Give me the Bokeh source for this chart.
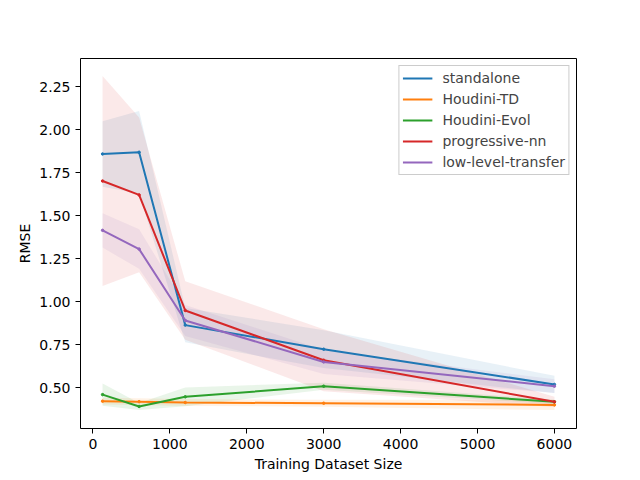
from bokeh.plotting import figure
from bokeh.models import Range1d, FixedTicker, PrintfTickFormatter
from bokeh.embed import file_html
from bokeh.resources import INLINE

x = [125, 600, 1200, 3000, 6000]

series_names = ["standalone", "Houdini-TD", "Houdini-Evol", "progressive-nn", "low-level-transfer"]
colors = ["#1f77b4", "#ff7f0e", "#2ca02c", "#d62728", "#9467bd"]

standalone_mean = [1.86, 1.87, 0.865, 0.725, 0.52]
standalone_std = [0.19, 0.24, 0.10, 0.11, 0.05]
td_mean = [0.423, 0.42, 0.415, 0.411, 0.401]
td_std = [0.02, 0.02, 0.02, 0.02, 0.03]
evol_mean = [0.461, 0.392, 0.448, 0.51, 0.419]
evol_std = [0.065, 0.02, 0.055, 0.02, 0.012]
pnn_mean = [1.703, 1.622, 0.95, 0.661, 0.419]
pnn_std = [0.61, 0.45, 0.17, 0.18, 0.03]
llt_mean = [1.416, 1.307, 0.892, 0.651, 0.51]
llt_std = [0.10, 0.115, 0.09, 0.07, 0.04]

x_ticks = [0, 1000, 2000, 3000, 4000, 5000, 6000]
y_ticks = [0.50, 0.75, 1.00, 1.25, 1.50, 1.75, 2.00, 2.25]

means = [standalone_mean, td_mean, evol_mean, pnn_mean, llt_mean]
stds = [standalone_std, td_std, evol_std, pnn_std, llt_std]

FONT = "DejaVu Sans"
FS = "14px"

p = figure(frame_width=496, frame_height=370,
           min_border_left=80, min_border_top=58, min_border_right=48, min_border_bottom=0,
           x_range=Range1d(-162, 6287), y_range=Range1d(0.264, 2.415),
           output_backend="svg", toolbar_location=None)

p.background_fill_color = "white"
p.border_fill_color = "white"
p.outline_line_color = "black"
p.outline_line_width = 1
p.xgrid.visible = False
p.ygrid.visible = False

for m, s, c in zip(means, stds, colors):
    lo = [a - b for a, b in zip(m, s)]
    hi = [a + b for a, b in zip(m, s)]
    p.varea(x=x, y1=lo, y2=hi, fill_color=c, fill_alpha=0.1)

for name, m, c in zip(series_names, means, colors):
    p.line(x, m, line_color=c, line_width=2, legend_label=name)
    p.scatter(x, m, size=2.5, color=c)

for ax in (p.xaxis[0], p.yaxis[0]):
    ax.major_tick_out = 5
    ax.major_tick_in = 0
    ax.minor_tick_out = 0
    ax.minor_tick_in = 0
    ax.axis_line_color = None
    ax.major_tick_line_color = "black"
    ax.major_label_text_font = FONT
    ax.major_label_text_font_size = FS
    ax.major_label_text_color = "black"
    ax.axis_label_text_font = FONT
    ax.axis_label_text_font_size = FS
    ax.axis_label_text_font_style = "normal"
    ax.axis_label_text_color = "black"
    ax.major_label_standoff = 5

p.xaxis.ticker = FixedTicker(ticks=x_ticks)
p.yaxis.ticker = FixedTicker(ticks=y_ticks)
p.yaxis.formatter = PrintfTickFormatter(format="%.2f")
p.xaxis.axis_label = "Training Dataset Size"
p.yaxis.axis_label = "RMSE"
p.xaxis.axis_label_standoff = 4
p.yaxis.axis_label_standoff = 3

lg = p.legend[0]
lg.location = "top_right"
lg.label_text_font = FONT
lg.label_text_font_size = FS
lg.border_line_color = "#cccccc"
lg.border_line_alpha = 1
lg.background_fill_alpha = 0.8
lg.glyph_width = 30
lg.glyph_height = 18
lg.label_height = 18
lg.spacing = 3
lg.padding = 3
lg.margin = 7
lg.label_standoff = 10

open("out.html", "w").write(file_html(p, INLINE))
